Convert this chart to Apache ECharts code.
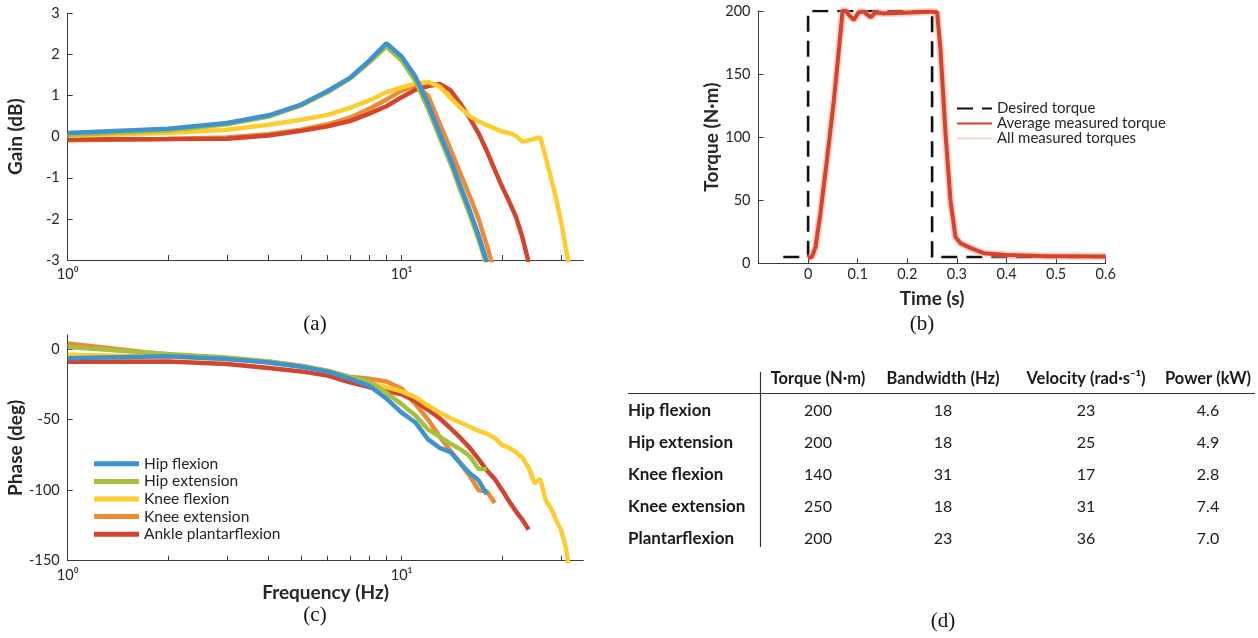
<!DOCTYPE html>
<html><head><meta charset="utf-8">
<script src="https://cdn.jsdelivr.net/npm/echarts@6/dist/echarts.min.js"></script>
<style>html,body{margin:0;padding:0;background:#fff}#c{width:1258px;height:638px}</style>
</head><body><div id="c"></div><script>
// ---------- data ----------
const freqHz = [1,2,3,4,5,6,7,8,9,10,11,12,13,14,15,16,17,18,19,20,21,22,23,24,25,26,27,28,29,30,31,32];
const jointNames = ['Hip flexion','Hip extension','Knee flexion','Knee extension','Ankle plantarflexion'];

const gainHipFlex  = [0.09,0.19,0.33,0.52,0.78,1.11,1.43,1.85,2.27,1.95,1.46,0.8,0.08,-0.55,-1.2,-1.8,-2.4,-3.05];
const gainHipExt   = [0.04,0.15,0.30,0.49,0.76,1.08,1.41,1.81,2.19,1.85,1.35,0.68,-0.02,-0.65,-1.3,-1.9,-2.5,-3.15];
const gainKneeFlex = [0.02,0.09,0.17,0.29,0.41,0.53,0.70,0.88,1.08,1.20,1.29,1.33,1.22,0.95,0.70,0.50,0.37,0.28,0.20,0.12,0.09,0.02,-0.12,-0.09,-0.05,-0.02,-0.5,-1.0,-1.5,-2.05,-2.7,-3.3];
const gainKneeExt  = [-0.09,-0.06,-0.02,0.06,0.17,0.30,0.46,0.68,0.90,1.12,1.24,1.0,0.32,-0.3,-0.9,-1.45,-2.0,-2.65,-3.3];
const gainAnkle    = [-0.07,-0.06,-0.05,0.03,0.14,0.25,0.38,0.56,0.74,0.96,1.14,1.23,1.28,1.13,0.8,0.45,0.08,-0.35,-0.8,-1.22,-1.58,-1.95,-2.45,-3.05];

const phaseHipFlex  = [-6.5,-5,-7,-9.5,-12.5,-16,-21,-26,-35,-45,-52,-64,-70,-73,-81,-88,-93,-103];
const phaseHipExt   = [1.5,-3.5,-6,-8.7,-11.8,-15.3,-20,-23,-31,-39,-47,-57,-62,-67,-71,-76,-85,-85];
const phaseKneeFlex = [-4,-5.4,-7,-9.4,-12.2,-15.8,-20,-24,-27,-30,-34,-40,-45,-49,-52,-55,-58,-60,-63,-68,-70,-73,-77,-84,-95,-92,-107,-113,-121,-128,-140,-162];
const phaseKneeExt  = [4,-4,-6.5,-9,-12,-15.5,-19.5,-21,-23,-28,-39,-50,-62,-72,-81,-90,-100,-101,-109];
const phaseAnkle    = [-9,-8.7,-10.6,-13.4,-15.8,-18.8,-23.5,-27,-29.5,-32,-37,-43,-49,-56,-63,-70,-78,-86,-92,-100,-108,-115,-121,-128];

const desiredTime   = [-0.05,0,0,0.25,0.25,0.6];
const desiredTorque = [5,5,200,200,5,5];
const measTime   = [0,0.008,0.015,0.025,0.038,0.052,0.062,0.069,0.072,0.082,0.092,0.102,0.112,0.126,0.136,0.153,0.18,0.22,0.247,0.26,0.267,0.277,0.287,0.297,0.307,0.328,0.354,0.40,0.469,0.6];
const measTorque = [4,5.3,13,40,82,129,169,198,202,197,193,199,199.5,195,199,198,198.5,199,199.5,199,169,103,50,21,16,12,8,6.6,5.8,5.3];

const freqTicks = [1,2,3,4,5,6,7,8,9,10,20,30];
const freqLabels = [1,10];
const timeTicks = [0,0.1,0.2,0.3,0.4,0.5,0.6];
const phaseTicks = [-150,-100,-50,0];

const tableHeaders = ['Torque (N·m)','Bandwidth (Hz)','Velocity (rad·s⁻¹)','Power (kW)'];
const tableRowNames = ['Hip flexion','Hip extension','Knee flexion','Knee extension','Plantarflexion'];
const torqueCol    = ['200','200','140','250','200'];
const bandwidthCol = ['18','18','31','18','23'];
const velocityCol  = ['23','25','17','31','36'];
const powerCol     = ['4.6','4.9','2.8','7.4','7.0'];

// ---------- styling ----------
const FONT = 'Lato';
const TXT = '#262626';
const AX = '#3a3a3a';
const colors = {
  'Hip flexion': '#3e92cf',
  'Hip extension': '#a7bf3c',
  'Knee flexion': '#fdcc2e',
  'Knee extension': '#ec8b34',
  'Ankle plantarflexion': '#d2442b'
};
const pair = (xs, ys) => ys.map((v, i) => [xs[i], v]);

const gainSets = {'Hip flexion': gainHipFlex,'Hip extension': gainHipExt,'Knee flexion': gainKneeFlex,'Knee extension': gainKneeExt,'Ankle plantarflexion': gainAnkle};
const phaseSets = {'Hip flexion': phaseHipFlex,'Hip extension': phaseHipExt,'Knee flexion': phaseKneeFlex,'Knee extension': phaseKneeExt,'Ankle plantarflexion': phaseAnkle};
const drawOrder = ['Knee extension','Ankle plantarflexion','Knee flexion','Hip extension','Hip flexion'];

const tickLabel = {color: TXT, fontFamily: FONT, fontSize: 14.5};
const nameStyle = {color: TXT, fontFamily: FONT, fontSize: 19, fontWeight: 'bold'};

function logX(gi, name) {
  return {
    type: 'log', logBase: 10, gridIndex: gi, min: 1, max: 35,
    axisLine: {show: true, onZero: false, lineStyle: {color: AX, width: 1}},
    axisTick: {show: true, inside: true, length: 5, customValues: freqTicks, lineStyle: {color: AX}},
    axisLabel: {customValues: freqLabels, margin: 7, formatter: v => (v < 5 ? '10⁰' : '10¹'), ...tickLabel},
    splitLine: {show: false}, minorTick: {show: false},
    name: name || '', nameLocation: 'middle', nameGap: 23, nameTextStyle: nameStyle
  };
}
function valY(gi, min, max, interval, name, gap, custom) {
  const ax = {
    type: 'value', gridIndex: gi, min, max, interval,
    axisLine: {show: true, onZero: false, lineStyle: {color: AX, width: 1}},
    axisTick: {show: true, inside: true, length: 5, lineStyle: {color: AX}},
    axisLabel: {margin: 8, ...tickLabel},
    splitLine: {show: false},
    name, nameLocation: 'middle', nameGap: gap, nameRotate: 90, nameTextStyle: nameStyle
  };
  if (custom) { ax.axisTick.customValues = custom; ax.axisLabel.customValues = custom; }
  return ax;
}

const series = [];
drawOrder.forEach(n => {
  series.push({name: n, type: 'line', xAxisIndex: 0, yAxisIndex: 0, showSymbol: false, symbol: 'none',
    data: pair(freqHz, gainSets[n]), lineStyle: {width: 4.5, color: colors[n]}, itemStyle: {color: colors[n]}, clip: true});
});
drawOrder.forEach(n => {
  series.push({name: n, type: 'line', xAxisIndex: 2, yAxisIndex: 2, showSymbol: false, symbol: 'none',
    data: pair(freqHz, phaseSets[n]), lineStyle: {width: 4.5, color: colors[n]}, itemStyle: {color: colors[n]}, clip: true});
});
series.push({name: 'Desired torque', type: 'line', xAxisIndex: 1, yAxisIndex: 1, symbol: 'none', showSymbol: false,
  data: pair(desiredTime, desiredTorque), lineStyle: {width: 2.6, color: '#111', type: [16, 9]}, itemStyle: {color: '#111'}});
series.push({name: 'All measured torques', type: 'line', xAxisIndex: 1, yAxisIndex: 1, symbol: 'none', showSymbol: false,
  data: pair(measTime, measTorque), lineStyle: {width: 7.5, color: 'rgba(242,168,158,0.5)'}, itemStyle: {color: 'rgba(242,175,165,0.8)'}});
series.push({name: 'Average measured torque', type: 'line', xAxisIndex: 1, yAxisIndex: 1, symbol: 'none', showSymbol: false,
  data: pair(measTime, measTorque), lineStyle: {width: 4, color: '#d6432a'}, itemStyle: {color: '#d6432a'}});

// ---------- table + panel labels ----------
const graphic = [];
const colX = [818, 943, 1086, 1208];
const rowY = [411, 443, 475, 507, 539];
tableHeaders.forEach((h, i) => graphic.push({type: 'text', style: {text: h, x: colX[i], y: 379, fill: '#1a1a1a', font: 'bold 16.5px ' + FONT, textAlign: 'center', verticalAlign: 'middle', textVerticalAlign: 'middle'}}));
graphic.push({type: 'line', shape: {x1: 628, y1: 393.5, x2: 1255, y2: 393.5}, style: {stroke: '#333', lineWidth: 1.2}});
graphic.push({type: 'line', shape: {x1: 760.5, y1: 372, x2: 760.5, y2: 547}, style: {stroke: '#333', lineWidth: 1.2}});
const cols = [torqueCol, bandwidthCol, velocityCol, powerCol];
tableRowNames.forEach((r, j) => {
  graphic.push({type: 'text', style: {text: r, x: 628, y: rowY[j], fill: '#1a1a1a', font: 'bold 17px ' + FONT, textAlign: 'left', verticalAlign: 'middle', textVerticalAlign: 'middle'}});
  cols.forEach((c, i) => graphic.push({type: 'text', style: {text: c[j], x: colX[i], y: rowY[j], fill: '#1a1a1a', font: '16px ' + FONT, textAlign: 'center', verticalAlign: 'middle', textVerticalAlign: 'middle'}}));
});
[['(a)', 315, 324], ['(b)', 922, 324], ['(c)', 315, 615], ['(d)', 943, 621]].forEach(p =>
  graphic.push({type: 'text', style: {text: p[0], x: p[1], y: p[2], fill: '#111', font: '21px "Liberation Serif"', textAlign: 'center', verticalAlign: 'middle', textVerticalAlign: 'middle'}}));

const option = {
  animation: false,
  backgroundColor: '#fff',
  grid: [
    {left: 67.7, top: 13.3, width: 515.6, height: 246.7},
    {left: 758.5, top: 11, width: 347.2, height: 252.3},
    {left: 67.7, top: 335, width: 515.6, height: 225.7}
  ],
  xAxis: [
    logX(0, ''),
    {type: 'value', gridIndex: 1, min: -0.1, max: 0.6, interval: 0.1,
      axisLine: {show: true, onZero: false, lineStyle: {color: AX, width: 1}},
      axisTick: {show: true, inside: true, length: 5, customValues: timeTicks, lineStyle: {color: AX}},
      axisLabel: {customValues: timeTicks, margin: 4, ...tickLabel},
      splitLine: {show: false},
      name: 'Time (s)', nameLocation: 'middle', nameGap: 26, nameTextStyle: nameStyle},
    logX(2, 'Frequency (Hz)')
  ],
  yAxis: [
    valY(0, -3, 3, 1, 'Gain (dB)', 42),
    valY(1, 0, 200, 50, 'Torque (N·m)', 36),
    valY(2, -150, 10, 50, 'Phase (deg)', 42, phaseTicks)
  ],
  legend: [
    {data: jointNames, orient: 'vertical', left: 94, top: 455, padding: 0, icon: 'rect', itemWidth: 45, itemHeight: 5, itemGap: 0,
      selectedMode: false, textStyle: {color: TXT, fontFamily: FONT, fontSize: 15.5, lineHeight: 17.6}},
    {data: ['Desired torque','Average measured torque','All measured torques'], orient: 'vertical', left: 956, top: 101, padding: 0,
      itemWidth: 35, itemHeight: 12, itemGap: 0, selectedMode: false, itemStyle: {opacity: 0},
      textStyle: {color: TXT, fontFamily: FONT, fontSize: 15, lineHeight: 14}}
  ],
  graphic,
  series
};
const chart = echarts.init(document.getElementById('c'), null, {renderer: 'canvas'});
chart.setOption(option);
</script></body></html>
